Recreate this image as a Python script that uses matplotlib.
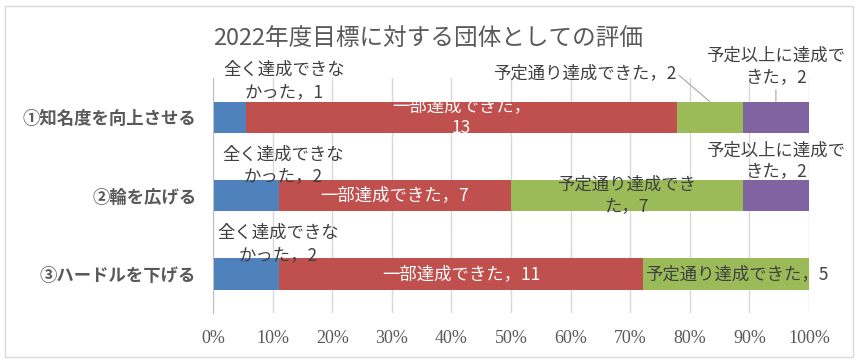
import matplotlib.pyplot as plt
from matplotlib.patches import Rectangle
import numpy as np

plt.rcParams['font.family'] = ['Noto Sans CJK JP', 'DejaVu Sans']

# data
title = '2022年度目標に対する団体としての評価'
categories = ['①知名度を向上させる', '②輪を広げる', '③ハードルを下げる']
series_names = ['全く達成できなかった', '一部達成できた', '予定通り達成できた', '予定以上に達成できた']
not_achieved = [1, 2, 2]
partly = [13, 7, 11]
as_planned = [2, 7, 5]
above_plan = [2, 2, 0]
counts = [not_achieved, partly, as_planned, above_plan]
xtick_values = np.arange(0, 101, 10)

colors = ['#4F81BD', '#C0504D', '#9BBB59', '#8064A2']
text_dark = '#404040'

# label layout per (series, row): line break index, offset px (dx, dy up), color, leader line
label_style = {
    (0, 0): (7, (55, 36), text_dark, False),
    (1, 0): (8, (0, 0), 'white', False),
    (2, 0): (None, (-125, 44), text_dark, True),
    (3, 0): (8, (0, 50), text_dark, True),
    (0, 1): (7, (37, 30), text_dark, False),
    (1, 1): (None, (0, 0), 'white', False),
    (2, 1): (8, (0, 0), text_dark, False),
    (3, 1): (8, (0, 34), text_dark, False),
    (0, 2): (7, (32, 30), text_dark, False),
    (1, 2): (None, (0, 0), 'white', False),
    (2, 2): (None, (11, 0), text_dark, False),
}
label_size = 12.5

fig = plt.figure(figsize=(8.58, 3.63), dpi=100)
ax = fig.add_axes([213 / 858, 1 - 313 / 363, 596 / 858, 235 / 363])

y = np.arange(len(categories))
totals = np.sum(counts, axis=0)
bar_h = 0.4
left = np.zeros(len(categories))
for si, vals in enumerate(counts):
    pct = np.array(vals) / totals * 100
    ax.barh(y, pct, left=left, height=bar_h, color=colors[si], zorder=2)
    for ri, v in enumerate(vals):
        if v == 0:
            continue
        txt = f'{series_names[si]}，{v}'
        brk, (dx, dy), col, leader = label_style[(si, ri)]
        if brk is not None:
            txt = txt[:brk] + '\n' + txt[brk:]
        cx = left[ri] + pct[ri] / 2
        if leader:
            ax.annotate(txt, xy=(cx, y[ri] - bar_h / 2), xytext=(dx, dy - 15.5),
                        textcoords='offset pixels', ha='center', va='center',
                        fontsize=label_size, color=col, linespacing=1.3,
                        arrowprops=dict(arrowstyle='-', color='#A6A6A6', lw=0.8,
                                        shrinkA=0, shrinkB=0,
                                        relpos=(1, 0.5) if brk is None else (0.5, 0)))
        else:
            ax.annotate(txt, xy=(cx, y[ri]), xytext=(dx, dy),
                        textcoords='offset pixels', ha='center', va='center',
                        fontsize=label_size, color=col, linespacing=1.3)
    left += pct

ax.set_xlim(0, 100)
ax.set_ylim(len(categories) - 0.5, -0.5)
ax.set_xticks(xtick_values)
ax.set_xticklabels([f'{v}%' for v in xtick_values], fontfamily='Liberation Serif',
                   fontsize=13, color='#595959')
ax.set_yticks(y)
ax.set_yticklabels(categories, fontsize=12.5, color='#595959', fontweight='bold')
ax.tick_params(axis='x', length=0, pad=12)
ax.tick_params(axis='y', length=0, pad=12)
ax.xaxis.grid(True, color='#D9D9D9', lw=1, zorder=0)
ax.set_axisbelow(True)
for s in ['top', 'right', 'bottom']:
    ax.spines[s].set_visible(False)
ax.spines['left'].set_color('#BFBFBF')

fig.text(428 / 858, 1 - 38 / 363, title, ha='center', va='center',
         fontsize=17, color='#595959')
fig.patches.append(Rectangle((5 / 858, 1 - 357 / 363), 848 / 858, 351 / 363,
                             transform=fig.transFigure, fill=False,
                             edgecolor='#D9D9D9', lw=1))

fig.savefig('out.png', dpi=100)
